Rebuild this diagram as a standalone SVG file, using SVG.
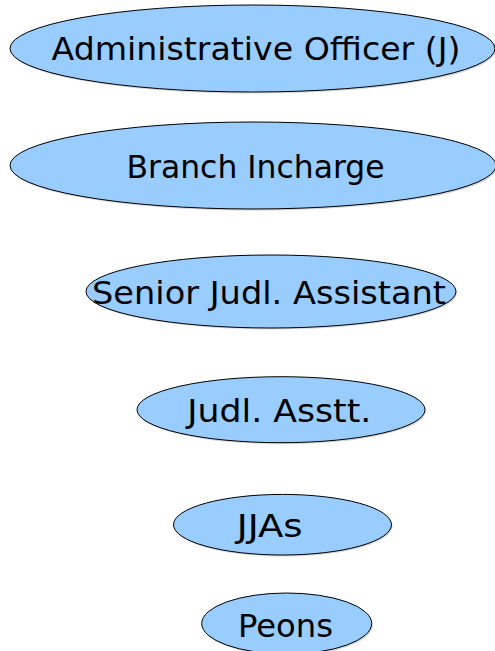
<svg xmlns="http://www.w3.org/2000/svg" width="495" height="651" viewBox="0 0 495 651">
  <style>
    .shadow { fill: #8a8a8a; opacity: 0.35; }
    .node { fill: #99ccff; stroke: #000000; stroke-width: 1; }
    .label { font-family: "DejaVu Sans", Verdana, sans-serif; font-size: 32px; fill: #000000; }
  </style>
  <rect width="495" height="651" fill="#ffffff"/>

  <g id="administrative-officer">
    <ellipse class="shadow" cx="253.5" cy="50" rx="242.5" ry="43.5"/>
    <ellipse class="node" cx="252.5" cy="48.5" rx="242.5" ry="43.5"/>
    <text class="label" x="51.5" y="60" textLength="409" lengthAdjust="spacingAndGlyphs">Administrative Officer (J)</text>
  </g>

  <g id="branch-incharge">
    <ellipse class="shadow" cx="254" cy="167" rx="243" ry="43.5"/>
    <ellipse class="node" cx="253" cy="165.5" rx="243" ry="43.5"/>
    <text class="label" x="126.5" y="177.5" textLength="258" lengthAdjust="spacingAndGlyphs">Branch Incharge</text>
  </g>

  <g id="senior-judl-assistant">
    <ellipse class="shadow" cx="272" cy="293" rx="185" ry="36.5"/>
    <ellipse class="node" cx="271" cy="291.5" rx="185" ry="36.5"/>
    <text class="label" x="92" y="304" textLength="354" lengthAdjust="spacingAndGlyphs">Senior Judl. Assistant</text>
  </g>

  <g id="judl-asstt">
    <ellipse class="shadow" cx="282" cy="411.2" rx="144" ry="33"/>
    <ellipse class="node" cx="281" cy="409.7" rx="144" ry="33"/>
    <text class="label" x="187.3" y="421.7" textLength="184" lengthAdjust="spacingAndGlyphs">Judl. Asstt.</text>
  </g>

  <g id="jjas">
    <ellipse class="shadow" cx="283.5" cy="526.2" rx="109" ry="30.3"/>
    <ellipse class="node" cx="282.5" cy="524.7" rx="109" ry="30.3"/>
    <text class="label" x="236.7" y="537.3" textLength="66" lengthAdjust="spacingAndGlyphs">JJAs</text>
  </g>

  <g id="peons">
    <ellipse class="shadow" cx="287.7" cy="625" rx="85" ry="30.5"/>
    <ellipse class="node" cx="286.7" cy="623.5" rx="85" ry="30.5"/>
    <text class="label" x="238" y="637.3" textLength="95" lengthAdjust="spacingAndGlyphs">Peons</text>
  </g>

  <g id="connectors"></g>
</svg>
